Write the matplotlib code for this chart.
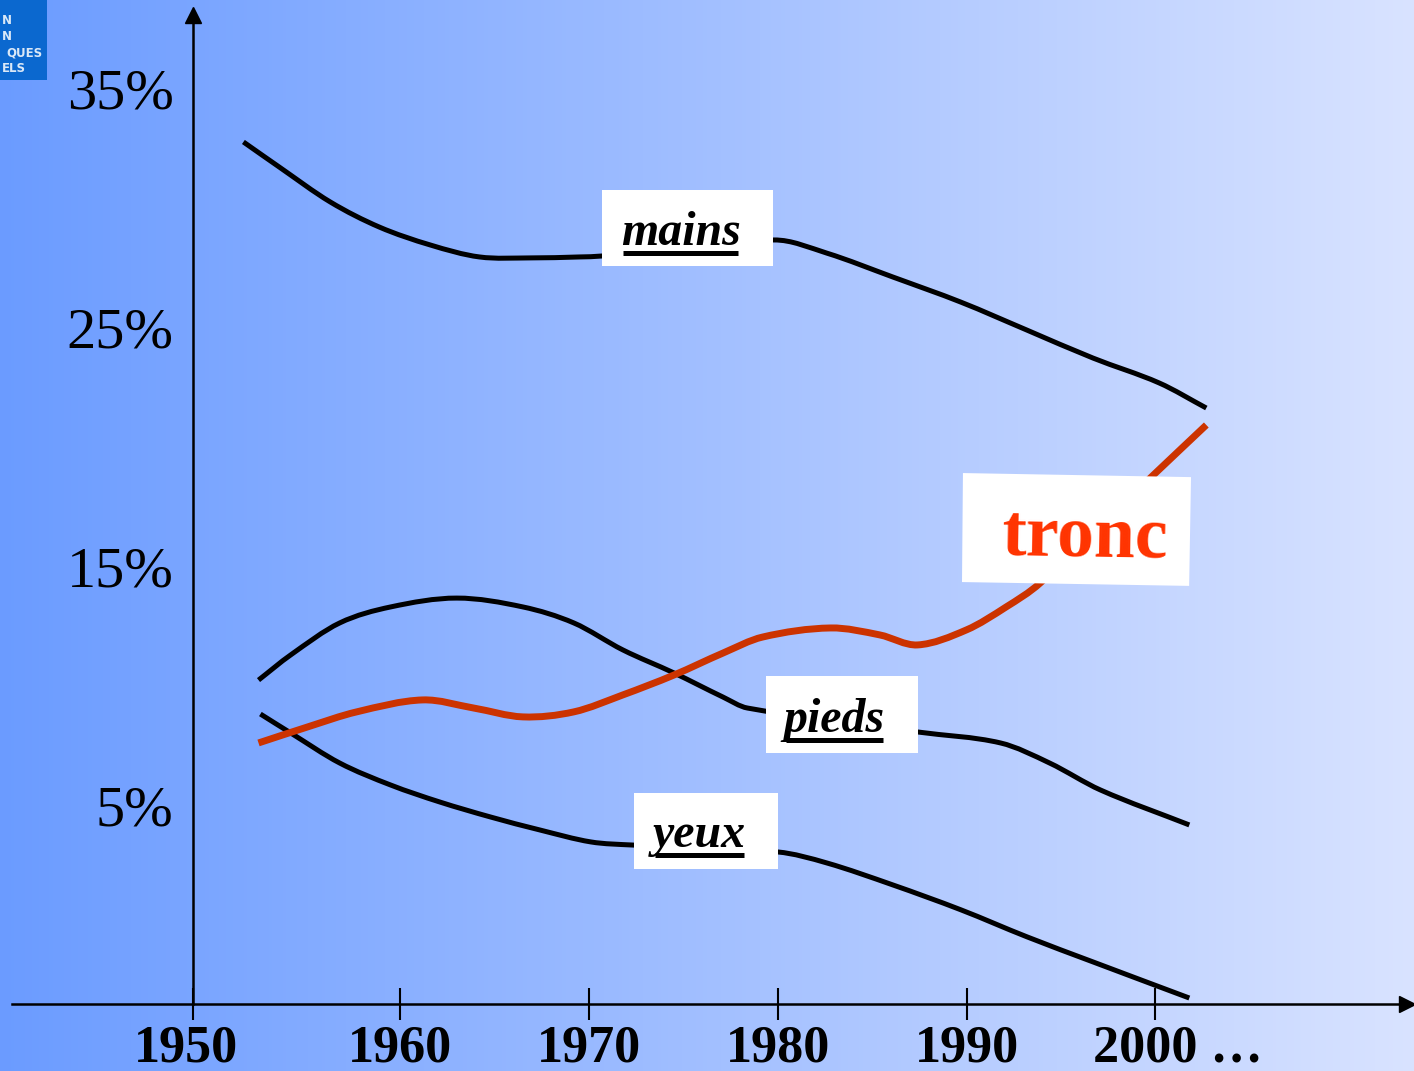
import numpy as np
import matplotlib
matplotlib.use('Agg')
import matplotlib.pyplot as plt
from matplotlib.patches import Rectangle, Polygon, PathPatch
from matplotlib.path import Path
from matplotlib.lines import Line2D
from matplotlib.transforms import IdentityTransform, ScaledTranslation

plt.rcParams['font.family'] = ['Liberation Serif', 'DejaVu Serif']

# values (year, % of accidents)
mains_yr = [1951.7, 1953.6, 1956.3, 1958.9, 1961.6, 1964.2, 1966.9, 1969.5, 1970.7,
            1979.8, 1982.6, 1986.1, 1989.7, 1993.2, 1996.7, 2000.2, 2002.7]
mains_pct = [32.75, 31.7, 30.24, 29.19, 28.44, 27.94, 27.9, 27.94, 27.98,
             28.65, 28.1, 27.1, 26.05, 24.88, 23.71, 22.67, 21.62]

pieds_yr = [1952.5, 1954.2, 1956.8, 1959.5, 1963.0, 1966.5, 1969.2, 1971.8, 1974.5,
            1977.1, 1978.4, 1987.4, 1991.8, 1994.4, 1997.1, 2001.8]
pieds_pct = [10.24, 11.29, 12.63, 13.3, 13.67, 13.3, 12.63, 11.5, 10.54,
             9.53, 9.07, 8.07, 7.61, 6.77, 5.64, 4.18]

yeux_yr = [1952.6, 1954.2, 1956.8, 1959.5, 1962.1, 1964.8, 1967.4, 1970.1, 1972.3,
           1980.0, 1982.6, 1986.1, 1989.7, 1993.2, 1996.7, 2001.8]
yeux_pct = [8.82, 8.03, 6.77, 5.85, 5.14, 4.51, 3.97, 3.47, 3.34,
            3.05, 2.59, 1.67, 0.63, -0.5, -1.55, -3.06]

tronc_yr = [1952.5, 1955.1, 1957.7, 1961.2, 1963.9, 1966.5, 1969.2, 1971.8, 1974.5,
            1977.1, 1979.2, 1982.8, 1985.4, 1987.4, 1990.0, 1992.1, 1993.9, 1999.9, 2002.7]
tronc_pct = [7.61, 8.28, 8.91, 9.41, 9.07, 8.7, 8.91, 9.62, 10.45,
             11.37, 12.04, 12.42, 12.13, 11.71, 12.34, 13.3, 14.3, 18.82, 20.91]

ytick_vals = [35, 25, 15, 5]
ytick_labels = ['35%', '25%', '15%', '5%']
xtick_years = [1950, 1960, 1970, 1980, 1990, 2000]
xtick_labels = ['1950', '1960', '1970', '1980', '1990', '2000 \u2026']

W, H = 1414, 1071
fig = plt.figure(figsize=(W / 100, H / 100), dpi=100)

# gradient background
bg = fig.add_axes([0, 0, 1, 1], zorder=-5)
c_left = np.array([0.42, 0.61, 1.0])
c_right = np.array([0.85, 0.89, 1.0])
t = np.linspace(0, 1, 400)[None, :, None]
grad = c_left[None, None, :] * (1 - t) + c_right[None, None, :] * t
bg.imshow(grad, aspect='auto', extent=[0, 1, 0, 1])
bg.axis('off')

# logo in the corner
fig.patches.append(Rectangle((0, 1 - 80 / H), 47 / W, 80 / H, transform=fig.transFigure,
                             fc='#0b68cf', ec='none', zorder=-4))
for txt, xl, yy in [('N', 2, 20), ('N', 2, 37), ('QUES', 6, 53), ('ELS', 2, 69)]:
    fig.text(xl / W, 1 - yy / H, txt, ha='left', va='center', color='white',
             fontsize=8.5, fontweight='bold', family='DejaVu Sans', alpha=0.85)

ax = fig.add_axes([193 / W, (H - 1004) / H, (W - 193) / W, (1004 - 10) / H])
ax.set_facecolor('none')

for s in ['top', 'right', 'bottom']:
    ax.spines[s].set_visible(False)
ax.spines['left'].set_linewidth(1.8)

x_lo, x_hi = 1949.03, 2013.7
ax.set_yticks(ytick_vals)
ax.set_yticklabels(ytick_labels, fontsize=42)
ax.tick_params(axis='y', length=0, pad=14)

# first label sits on the y axis
xpos = [x_lo] + xtick_years[1:]
ax.set_xticks(xpos)
ax.set_xticklabels(xtick_labels, fontsize=37.5, fontweight='bold')
ax.tick_params(axis='x', direction='inout', length=23, width=1.5, pad=3)
ax.set_xlim(x_lo, x_hi)
ax.set_ylim(-3.31, 38.27)
tl = ax.get_xticklabels()
tl[0].set_transform(tl[0].get_transform() + ScaledTranslation(-0.07, 0, fig.dpi_scale_trans))
tl[-1].set_horizontalalignment('left')
tl[-1].set_transform(tl[-1].get_transform() + ScaledTranslation(-0.62, 0, fig.dpi_scale_trans))

# x axis line (runs left of the y axis) with arrow heads
ax.add_line(Line2D([-(193 - 12) / (W - 193), 1], [0, 0], transform=ax.transAxes,
                   color='black', lw=1.8, clip_on=False))
ax.plot([1 - 7 / (W - 193)], [0], marker='>', color='black', ms=11,
        transform=ax.transAxes, clip_on=False)
ax.plot([0], [1 - 5 / 994], marker='^', color='black', ms=11,
        transform=ax.transAxes, clip_on=False)


def smooth_line(xs, ys, color, lw, z=2):
    # cubic hermite through the read points (y as a function of year), as a bezier path
    x = np.asarray(xs, float)
    y = np.asarray(ys, float)
    n = len(x)
    m = np.empty(n)
    m[1:-1] = (y[2:] - y[:-2]) / (x[2:] - x[:-2])
    m[0] = (y[1] - y[0]) / (x[1] - x[0])
    m[-1] = (y[-1] - y[-2]) / (x[-1] - x[-2])
    verts = [(x[0], y[0])]
    codes = [Path.MOVETO]
    for i in range(n - 1):
        h = x[i + 1] - x[i]
        verts += [(x[i] + h / 3, y[i] + m[i] * h / 3),
                  (x[i + 1] - h / 3, y[i + 1] - m[i + 1] * h / 3),
                  (x[i + 1], y[i + 1])]
        codes += [Path.CURVE4] * 3
    ax.add_patch(PathPatch(Path(verts, codes), fill=False, ec=color, lw=lw,
                           capstyle='butt', joinstyle='round', zorder=z))


smooth_line(mains_yr, mains_pct, 'black', 3.6)
smooth_line(pieds_yr, pieds_pct, 'black', 3.6)
smooth_line(yeux_yr, yeux_pct, 'black', 3.6)
smooth_line(tronc_yr, tronc_pct, '#cc3300', 5, z=3)


# white label boxes
def box(x0, x1, y0, y1):
    ax.add_patch(Rectangle((x0, y0), x1 - x0, y1 - y0, fc='white', ec='none', zorder=5))


box(1970.69, 1979.75, 27.56, 30.74)   # mains
box(1979.38, 1987.43, 7.19, 10.41)    # pieds
box(1972.38, 1980.01, 2.34, 5.52)     # yeux
ax.add_patch(Polygon([(1989.81, 18.90), (2001.89, 18.73), (2001.79, 14.18), (1989.76, 14.34)],
                     closed=True, fc='white', ec='none', zorder=5))

labels = []
for name, xc, yb in [('mains', 1974.85, 28.44), ('pieds', 1983.0, 8.07), ('yeux', 1975.85, 3.26)]:
    tx = ax.text(xc, yb, name, ha='center', va='baseline', fontsize=34.5,
                 fontweight='bold', fontstyle='italic', zorder=6)
    labels.append(tx)

ax.text(1996.3, 15.39, 'tronc', ha='center', va='baseline', fontsize=53,
        fontweight='bold', color='#ff3300', rotation=-1, zorder=6)

# underline the italic labels
fig.canvas.draw()
r = fig.canvas.get_renderer()
for tx in labels:
    bb = tx.get_window_extent(r)
    xb, yb = ax.transData.transform(tx.get_position())
    fig.add_artist(Line2D([bb.x0 + 2, bb.x1 - 2], [yb - 8, yb - 8], transform=IdentityTransform(),
                          color='black', lw=3.6, solid_capstyle='butt', zorder=7))

fig.savefig('out.png', dpi=100)
